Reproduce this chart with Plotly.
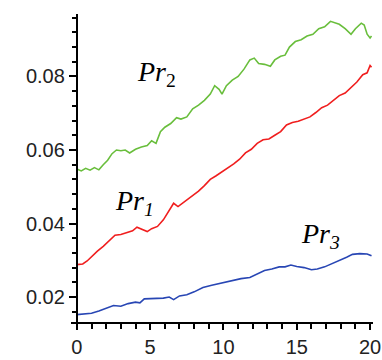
import plotly.graph_objects as go

# Pr2 (green)
pr2_t = [0, 0.3, 0.6, 0.9, 1.2, 1.5, 1.8, 2.1, 2.4, 2.7, 3.0, 3.3, 3.6, 4.0, 4.4, 4.8, 5.1, 5.4, 5.7,
         6.0, 6.4, 6.8, 7.1, 7.5, 7.9, 8.3, 8.7, 9.1, 9.4, 9.7, 9.9, 10.2, 10.6, 11.0, 11.4, 11.8,
         12.1, 12.4, 12.8, 13.2, 13.5, 13.9, 14.2, 14.5, 14.9, 15.3, 15.7, 16.1, 16.5, 16.9, 17.3,
         17.6, 17.9, 18.3, 18.7, 19.0, 19.4, 19.6, 19.8, 20.0, 20.1]
pr2_v = [0.0548, 0.0543, 0.0550, 0.0545, 0.0552, 0.0546, 0.0560, 0.0572, 0.0590, 0.0600, 0.0598,
         0.0600, 0.0592, 0.0602, 0.0608, 0.0612, 0.0625, 0.0618, 0.0650, 0.0662, 0.0672, 0.0688,
         0.0684, 0.0690, 0.0712, 0.0722, 0.0735, 0.0752, 0.0775, 0.0765, 0.0752, 0.0775, 0.0790,
         0.0800, 0.0820, 0.0845, 0.0850, 0.0835, 0.0833, 0.0828, 0.0845, 0.0855, 0.0858, 0.0880,
         0.0895, 0.0900, 0.0910, 0.0915, 0.0930, 0.0935, 0.0950, 0.0945, 0.0942, 0.0930, 0.0915,
         0.0930, 0.0945, 0.0940, 0.0915, 0.0905, 0.0910]

# Pr1 (red)
pr1_t = [0, 0.4, 0.7, 1.0, 1.4, 1.8, 2.2, 2.6, 3.0, 3.4, 3.8, 4.1, 4.4, 4.8, 5.1, 5.5, 5.9, 6.3,
         6.6, 6.9, 7.2, 7.6, 8.0, 8.3, 8.7, 9.1, 9.5, 9.9, 10.3, 10.7, 11.1, 11.5, 11.9, 12.3,
         12.7, 13.1, 13.5, 13.9, 14.3, 14.7, 15.1, 15.5, 15.9, 16.3, 16.7, 17.1, 17.5, 17.9,
         18.3, 18.7, 19.1, 19.5, 19.8, 20.0, 20.1]
pr1_v = [0.0288, 0.0290, 0.0298, 0.0310, 0.0325, 0.0338, 0.0352, 0.0368, 0.0370, 0.0375, 0.0380,
         0.0390, 0.0385, 0.0378, 0.0386, 0.0392, 0.0410, 0.0435, 0.0455, 0.0446, 0.0455, 0.0465,
         0.0478, 0.0488, 0.0503, 0.0520, 0.0530, 0.0540, 0.0550, 0.0562, 0.0575, 0.0592, 0.0602,
         0.0618, 0.0628, 0.0630, 0.0640, 0.0650, 0.0668, 0.0675, 0.0678, 0.0685, 0.0690, 0.0702,
         0.0715, 0.0722, 0.0735, 0.0748, 0.0755, 0.0770, 0.0785, 0.0805, 0.0810, 0.0830, 0.0825]

# Pr3 (blue)
pr3_t = [0, 0.5, 1.0, 1.5, 2.0, 2.5, 3.0, 3.5, 4.0, 4.3, 4.6, 5.2, 5.9, 6.3, 6.6, 7.0, 7.5, 8.0,
         8.6, 9.2, 9.8, 10.2, 10.6, 11.2, 11.8, 12.3, 12.8, 13.3, 13.8, 14.2, 14.6, 15.0, 15.5,
         16.0, 16.4, 16.9, 17.4, 17.9, 18.4, 18.8, 19.3, 19.8, 20.1]
pr3_v = [0.0152, 0.0155, 0.0156, 0.0162, 0.0170, 0.0177, 0.0175, 0.0182, 0.0186, 0.0184, 0.0195,
         0.0196, 0.0197, 0.0200, 0.0193, 0.0203, 0.0206, 0.0214, 0.0226, 0.0232, 0.0238, 0.0240,
         0.0246, 0.0250, 0.0253, 0.0262, 0.0272, 0.0276, 0.0282, 0.0282, 0.0287, 0.0283, 0.0280,
         0.0274, 0.0276, 0.0282, 0.0290, 0.0298, 0.0308, 0.0316, 0.0318, 0.0317, 0.0312]

x_tick_step = 5
y_tick_step = 0.02

fig = go.Figure()
fig.add_trace(go.Scatter(x=pr2_t, y=pr2_v, mode="lines", line=dict(color="rgb(105,190,60)", width=1.6)))
fig.add_trace(go.Scatter(x=pr1_t, y=pr1_v, mode="lines", line=dict(color="rgb(240,30,30)", width=1.6)))
fig.add_trace(go.Scatter(x=pr3_t, y=pr3_v, mode="lines", line=dict(color="rgb(40,70,180)", width=1.6)))

ann_font = dict(family="Liberation Serif", size=28, color="black")
fig.add_annotation(x=5.45, y=0.0808, text="<i>Pr</i><sub>2</sub>", showarrow=False, font=ann_font)
fig.add_annotation(x=3.95, y=0.0457, text="<i>Pr<sub>1</sub></i>", showarrow=False, font=ann_font)
fig.add_annotation(x=16.6, y=0.0368, text="<i>Pr<sub>3</sub></i>", showarrow=False, font=ann_font)

xr = [-0.4, 20.2]
fig.update_layout(
    width=382, height=360,
    margin=dict(l=71, r=9, t=14, b=38),
    plot_bgcolor="white", paper_bgcolor="white",
    showlegend=False,
    font=dict(family="Liberation Sans", size=20, color="#222"),
    xaxis=dict(range=xr, tick0=0, dtick=x_tick_step, ticks="outside", ticklen=6, tickwidth=1.5,
               tickcolor="black", showline=True, linecolor="black", linewidth=2,
               showgrid=False, zeroline=False, automargin=False,
               minor=dict(dtick=1, tick0=0, ticks="outside", ticklen=5, tickwidth=1.5,
                          tickcolor="black", showgrid=False)),
    yaxis=dict(range=[0.0132, 0.097], tick0=0, dtick=y_tick_step, tickformat=".2f",
               ticks="outside", ticklen=7, tickwidth=1.5, tickcolor="black", showline=True,
               linecolor="black", linewidth=2, showgrid=False, zeroline=False, automargin=False,
               anchor="free", position=(0 - xr[0]) / (xr[1] - xr[0]),
               minor=dict(dtick=0.004, tick0=0, ticks="outside", ticklen=4, tickwidth=1.5,
                          tickcolor="black", showgrid=False)),
)

fig.write_html("out.html")
